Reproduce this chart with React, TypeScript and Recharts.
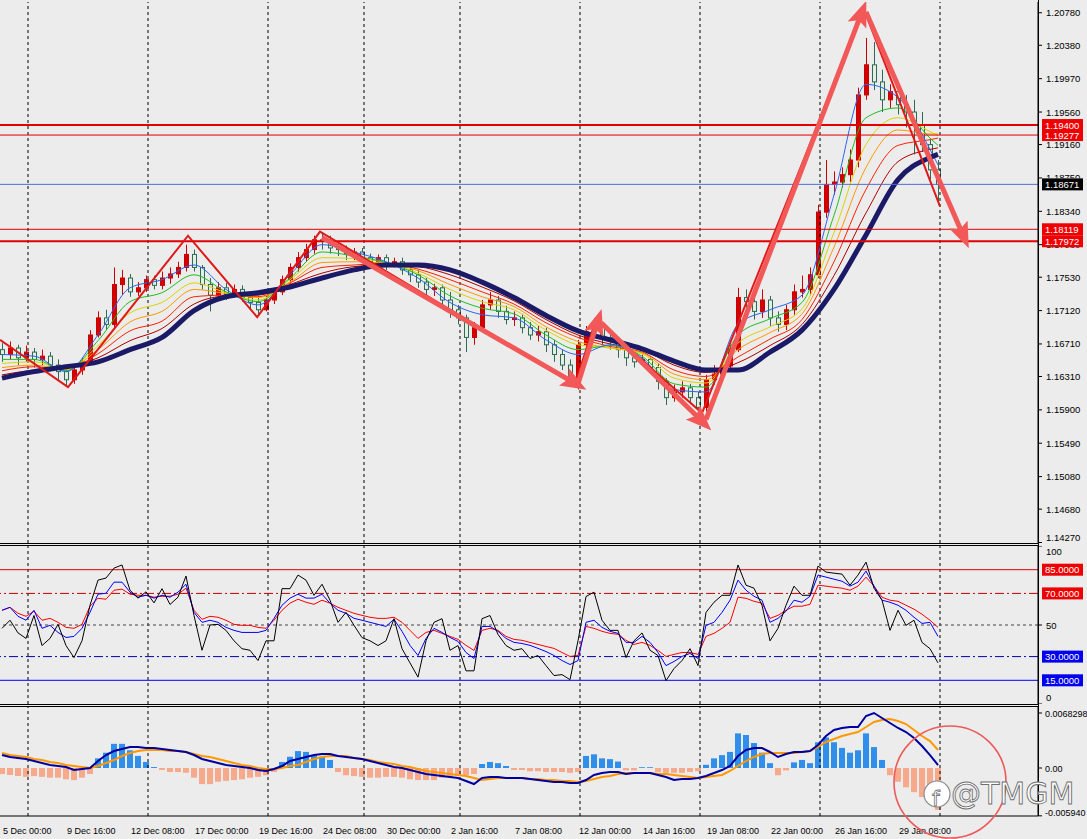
import React from "react";
import { ComposedChart, Bar, Line, XAxis, YAxis, ReferenceLine, Cell } from "recharts";

// ---- price candles (one candle per 8h) ----
const opens = [
  1.1664, 1.1658, 1.1666, 1.1654, 1.1661, 1.1652, 1.1656, 1.1645, 1.1637, 1.1627,
  1.1639, 1.1649, 1.1682, 1.1703, 1.1695, 1.1744, 1.1752, 1.1735, 1.174, 1.175,
  1.1743, 1.1752, 1.1757, 1.1765, 1.1781, 1.1765, 1.1744, 1.1731, 1.174, 1.1731,
  1.1738, 1.1728, 1.1722, 1.1713, 1.1725, 1.1735, 1.175, 1.1765, 1.1777, 1.1787,
  1.1799, 1.1797, 1.1789, 1.1787, 1.1782, 1.1784, 1.1777, 1.1772, 1.1777, 1.177,
  1.1772, 1.1762, 1.1756, 1.1747, 1.1738, 1.174, 1.1725, 1.1713, 1.1703, 1.1679,
  1.1691, 1.1719, 1.1725, 1.1711, 1.1701, 1.1703, 1.1691, 1.1682, 1.1686, 1.167,
  1.1658, 1.1645, 1.1629, 1.167, 1.1686, 1.1691, 1.1679, 1.1674, 1.1664, 1.1654,
  1.1649, 1.1652, 1.1642, 1.1625, 1.1605, 1.1612, 1.1617, 1.1605, 1.1593, 1.1627,
  1.1634, 1.1644, 1.1664, 1.1728, 1.1723, 1.1711, 1.1725, 1.1703, 1.1695, 1.1713,
  1.1735, 1.1738, 1.1756, 1.1833, 1.1867, 1.187, 1.1879, 1.1897, 1.1977, 1.2014,
  1.1993, 1.1971, 1.1981, 1.1965, 1.1956, 1.194, 1.1916, 1.1885,
];
const highs = [
  1.1672, 1.1674, 1.167, 1.1669, 1.1666, 1.1664, 1.1661, 1.1652, 1.1642, 1.1645,
  1.1654, 1.1688, 1.1711, 1.1713, 1.1765, 1.1762, 1.1757, 1.1747, 1.1755, 1.1755,
  1.176, 1.1765, 1.1772, 1.1793, 1.1787, 1.1768, 1.1752, 1.1747, 1.1746, 1.1744,
  1.1743, 1.1735, 1.173, 1.173, 1.174, 1.1755, 1.177, 1.1784, 1.1794, 1.1804,
  1.1808, 1.1804, 1.1797, 1.1792, 1.1789, 1.1789, 1.1782, 1.1781, 1.1781, 1.1777,
  1.1777, 1.1767, 1.1762, 1.1752, 1.1745, 1.1744, 1.1735, 1.1719, 1.1707, 1.1698,
  1.1725, 1.1735, 1.173, 1.1718, 1.1711, 1.1708, 1.1698, 1.1693, 1.1691, 1.1676,
  1.1664, 1.1652, 1.1676, 1.1693, 1.1703, 1.1695, 1.1686, 1.1679, 1.167, 1.1661,
  1.1658, 1.1656, 1.1647, 1.1629, 1.1621, 1.1625, 1.1622, 1.1612, 1.1633, 1.1645,
  1.1652, 1.167, 1.174, 1.1738, 1.173, 1.1738, 1.173, 1.1711, 1.1719, 1.1744,
  1.1755, 1.1765, 1.1842, 1.1897, 1.1883, 1.1888, 1.191, 1.1986, 1.2047, 1.2042,
  1.2008, 1.199, 1.1986, 1.1977, 1.1971, 1.1956, 1.1922, 1.1897,
];
const lows = [
  1.1649, 1.1652, 1.1645, 1.1649, 1.1642, 1.1645, 1.1637, 1.1627, 1.1618, 1.1622,
  1.1633, 1.1645, 1.1679, 1.1688, 1.1691, 1.1731, 1.1729, 1.173, 1.1735, 1.1738,
  1.1738, 1.1745, 1.1752, 1.176, 1.176, 1.1738, 1.1711, 1.1725, 1.1725, 1.1728,
  1.1723, 1.1713, 1.1706, 1.1711, 1.172, 1.1731, 1.1745, 1.176, 1.1772, 1.1782,
  1.1787, 1.1782, 1.1779, 1.1774, 1.1774, 1.177, 1.1765, 1.1767, 1.1762, 1.1765,
  1.1756, 1.1747, 1.174, 1.1731, 1.173, 1.1718, 1.1703, 1.1695, 1.1661, 1.167,
  1.1686, 1.1713, 1.1703, 1.1695, 1.1693, 1.1684, 1.1676, 1.1674, 1.1661, 1.1649,
  1.1639, 1.1618, 1.1615, 1.1664, 1.1679, 1.167, 1.1664, 1.1654, 1.1644, 1.1642,
  1.1644, 1.1634, 1.1615, 1.1596, 1.16, 1.1605, 1.1597, 1.1583, 1.1588, 1.1621,
  1.1629, 1.1639, 1.1661, 1.1711, 1.1701, 1.1703, 1.1693, 1.1686, 1.1688, 1.1707,
  1.1728, 1.1731, 1.1752, 1.1826, 1.1854, 1.1863, 1.187, 1.1888, 1.1971, 1.1983,
  1.1956, 1.1961, 1.1953, 1.1937, 1.1904, 1.1907, 1.1873, 1.1842,
];
const closes = [
  1.1658, 1.1666, 1.1654, 1.1661, 1.1652, 1.1656, 1.1645, 1.1637, 1.1627, 1.1639,
  1.1649, 1.1682, 1.1703, 1.1695, 1.1744, 1.1752, 1.1735, 1.174, 1.175, 1.1743,
  1.1752, 1.1757, 1.1765, 1.1781, 1.1765, 1.1744, 1.1731, 1.174, 1.1731, 1.1738,
  1.1728, 1.1722, 1.1713, 1.1725, 1.1735, 1.175, 1.1765, 1.1777, 1.1787, 1.1799,
  1.1797, 1.1789, 1.1787, 1.1782, 1.1784, 1.1777, 1.1772, 1.1777, 1.177, 1.1772,
  1.1762, 1.1756, 1.1747, 1.1738, 1.174, 1.1725, 1.1713, 1.1703, 1.1679, 1.1691,
  1.1719, 1.1725, 1.1711, 1.1701, 1.1703, 1.1691, 1.1682, 1.1686, 1.167, 1.1658,
  1.1645, 1.1629, 1.167, 1.1686, 1.1691, 1.1679, 1.1674, 1.1664, 1.1654, 1.1649,
  1.1652, 1.1642, 1.1625, 1.1605, 1.1612, 1.1617, 1.1605, 1.1593, 1.1627, 1.1634,
  1.1644, 1.1664, 1.1728, 1.1723, 1.1711, 1.1725, 1.1703, 1.1695, 1.1713, 1.1735,
  1.1738, 1.1756, 1.1833, 1.1867, 1.187, 1.1879, 1.1897, 1.1977, 1.2014, 1.1993,
  1.1971, 1.1981, 1.1965, 1.1956, 1.194, 1.1916, 1.1885, 1.1867,
];

// ---- moving-average ribbon, sampled every 4 candles ----
const maBars = [0, 4, 8, 12, 16, 20, 24, 28, 32, 36, 40, 44, 48, 52, 56, 60, 64, 68, 72, 76, 80, 84, 88, 92, 96, 100, 104, 108, 112, 116, 117];
const blueMA = [1.1658, 1.1656, 1.1637, 1.1682, 1.174, 1.175, 1.1768, 1.1738, 1.1719, 1.1756, 1.1793, 1.1784, 1.1772, 1.1752, 1.1722, 1.1707, 1.1703, 1.1676, 1.1658, 1.167, 1.1654, 1.1615, 1.1612, 1.1695, 1.1713, 1.1731, 1.1854, 1.199, 1.1974, 1.191, 1.1891];
const greenMA = [1.1652, 1.1652, 1.1638, 1.1675, 1.1723, 1.1734, 1.1756, 1.1735, 1.1723, 1.1752, 1.1784, 1.1779, 1.1771, 1.1756, 1.173, 1.1715, 1.1708, 1.1682, 1.1664, 1.1669, 1.1656, 1.1622, 1.1618, 1.1682, 1.1702, 1.1722, 1.1829, 1.1949, 1.1961, 1.1924, 1.1915];
const yellowMA = [1.1647, 1.1649, 1.1639, 1.1669, 1.1709, 1.1722, 1.1746, 1.1734, 1.1725, 1.175, 1.1777, 1.1776, 1.1771, 1.1758, 1.1738, 1.1723, 1.1713, 1.1688, 1.167, 1.1666, 1.1659, 1.1629, 1.1623, 1.1672, 1.1692, 1.1714, 1.1808, 1.1916, 1.1949, 1.1932, 1.1927];
const orangeMA = [1.1642, 1.1645, 1.164, 1.1664, 1.1698, 1.1711, 1.1738, 1.1733, 1.1728, 1.1747, 1.1771, 1.1772, 1.177, 1.1761, 1.1744, 1.1729, 1.1717, 1.1692, 1.1674, 1.1666, 1.166, 1.1634, 1.1627, 1.1664, 1.1685, 1.1708, 1.179, 1.1888, 1.1934, 1.1929, 1.1929];
const redMA = [1.1638, 1.1643, 1.164, 1.1659, 1.1687, 1.1699, 1.1729, 1.1731, 1.1729, 1.1746, 1.1765, 1.1768, 1.177, 1.1763, 1.175, 1.1735, 1.172, 1.1697, 1.1679, 1.1668, 1.1661, 1.1639, 1.1631, 1.1655, 1.1677, 1.1701, 1.1772, 1.1861, 1.1915, 1.1922, 1.1924];
const darkRedMA = [1.1633, 1.1639, 1.1642, 1.1654, 1.1675, 1.169, 1.172, 1.173, 1.1731, 1.1744, 1.1758, 1.1766, 1.1768, 1.1766, 1.1756, 1.1741, 1.1724, 1.1701, 1.1682, 1.1671, 1.1664, 1.1645, 1.1636, 1.1648, 1.1669, 1.1695, 1.1755, 1.1832, 1.1895, 1.191, 1.1912];
const slowMA = [1.1629, 1.1637, 1.1643, 1.1649, 1.1664, 1.1679, 1.1712, 1.1729, 1.1734, 1.1741, 1.1752, 1.1762, 1.1768, 1.1768, 1.1762, 1.1747, 1.1728, 1.1706, 1.1687, 1.1676, 1.1665, 1.165, 1.1639, 1.1639, 1.1661, 1.1688, 1.1738, 1.1805, 1.1873, 1.19, 1.1904];

// ---- hand-drawn objects (bar position, price) ----
const zigzagBars = [-0.25, 8.25, 23.25, 31.9, 39.75, 71.6, 74.25, 87.5, 107.75, 117.25];
const zigzagPrices = [1.1676, 1.1618, 1.1804, 1.1704, 1.1809, 1.1621, 1.1701, 1.1586, 1.2082, 1.184];
const arrowBars = [[40, 71.75], [72, 74.5], [74.9, 87.6], [88, 107.5], [108, 120.25]];
const arrowPrices = [[1.1802, 1.1622], [1.1622, 1.17], [1.1697, 1.1575], [1.1578, 1.2079], [1.2079, 1.1802]];
const thickLevels = [1.194, 1.17972];
const thinLevels = [1.19277, 1.18119];
const bidPrice = 1.18671;

const priceTicks = [1.2078, 1.2038, 1.1997, 1.1956, 1.1916, 1.1875, 1.1834, 1.1793, 1.1753, 1.1712, 1.1671, 1.1631, 1.159, 1.1549, 1.1508, 1.1468, 1.1427];

// ---- stochastic panel ----
const stochMain = [47.9, 53, 45, 41.5, 56, 37, 41.5, 50.4, 37, 29.4, 40, 62.5, 78.4, 79.7, 86, 88, 72, 67, 71, 64, 73, 63, 67.6, 81, 56, 34, 50, 50.4, 46.6, 40, 35, 34, 27.5, 40, 40, 73, 73, 81.6, 78.4, 68.8, 75.8, 65.7, 51.7, 58, 49.8, 42, 40, 37, 40, 54, 35, 26, 17, 40, 51.7, 54, 34, 37, 21, 21, 54, 56, 44, 37, 34, 35, 28.8, 30.7, 24.3, 18, 18.6, 15.4, 40, 68, 70.8, 53, 46.6, 46.6, 29.4, 40, 45, 34, 30.7, 14.8, 22.4, 27.5, 35, 24.3, 58, 64.4, 68.8, 68.8, 88, 75.2, 73.3, 62.5, 40, 47.9, 62.5, 74.6, 68.8, 68.8, 87.3, 83.5, 82.8, 82.2, 75.2, 81.6, 89.8, 73.3, 65.7, 46.6, 59.3, 49.8, 53, 39, 35, 26];
const stochSignal = [59.3, 61.2, 55.5, 53, 59.3, 47.9, 49.8, 45.3, 42.1, 42.8, 47.9, 58, 69.5, 70.1, 77.1, 77.1, 70.8, 67.6, 68.8, 67, 68.8, 67.6, 70.8, 75.8, 58, 51.7, 53, 51.7, 48.5, 46.6, 45.3, 45.3, 45.3, 46.6, 54.2, 62.5, 67, 69.5, 67, 67, 69.5, 63.8, 59.3, 57.4, 54.2, 53, 51.7, 50.4, 49.1, 53.6, 46, 37.1, 30.7, 41.5, 47.9, 45.3, 42.1, 39.6, 32.6, 28.8, 49.1, 49.1, 46, 41.5, 39, 38.3, 37.1, 35.2, 33.2, 30.7, 27.5, 25, 27.5, 51.7, 53, 48.5, 46, 44.7, 39, 39, 42.8, 39, 32.6, 24.3, 26.9, 30.1, 32, 28.8, 49.8, 51.7, 58, 65.7, 78.4, 72, 68.2, 65.7, 51.7, 54.2, 58.7, 65.7, 64.4, 68.2, 81.6, 80.3, 79, 77.7, 74.6, 77.1, 84.1, 74.6, 65.7, 64.4, 62.5, 59.3, 54.9, 51, 51.7, 42.8];
const stochSlow = [59.3, 61.2, 57.4, 55.5, 58.7, 53, 54.2, 51.7, 48.5, 47.9, 50.4, 61.9, 66.9, 66.3, 72, 72.7, 69.5, 68.8, 68.8, 67.6, 68.2, 68.2, 69.5, 73.3, 59.3, 53.6, 55.5, 54.9, 53, 50.4, 49.8, 49.8, 48.5, 47.9, 53, 59.3, 63.8, 66.3, 64.4, 63.1, 65.7, 63.8, 61.2, 59.3, 57.4, 56.1, 54.9, 54.2, 54.2, 54.9, 51.7, 46.6, 41.5, 45.3, 46.6, 44.7, 42.8, 40.9, 37.1, 33.9, 46.6, 47.9, 46.6, 42.8, 40.9, 40.3, 39, 37.7, 36.4, 35.2, 32.6, 30.1, 30.7, 49.1, 47.9, 46, 44.7, 44.1, 40.3, 37.7, 39, 37.1, 33.9, 30.1, 31.4, 32.6, 32.6, 31.4, 42.8, 44.7, 47.9, 51.7, 67.6, 66.9, 65, 63.8, 54.2, 56.1, 59.3, 61.9, 61.9, 63.1, 75.2, 74.6, 73.9, 73.3, 72, 74.6, 80.3, 74.6, 67.6, 65.7, 65, 62.5, 60, 56.8, 53, 48.5];
const stochLevels = [85, 70, 50, 30, 15];

// ---- MACD panel ----
const macdMain = [0.00161, 0.00137, 0.00124, 0.00112, 0.00087, 0.00062, 0.00037, 0.00025, 0.00012, -0.00025, -0.00012, 0, 0.00087, 0.00161, 0.00211, 0.00236, 0.00261, 0.00261, 0.00248, 0.00248, 0.00236, 0.00224, 0.00211, 0.00199, 0.00161, 0.00112, 0.00087, 0.00062, 0.00037, 0.00025, 0.00012, 0, -0.00025, -0.00037, -0.00012, 0.00025, 0.00087, 0.00112, 0.00137, 0.00161, 0.00174, 0.00174, 0.00149, 0.00137, 0.00124, 0.00112, 0.00087, 0.00062, 0.00037, 0.00012, 0, -0.00025, -0.0005, -0.00075, -0.00087, -0.00099, -0.00112, -0.00124, -0.00161, -0.00199, -0.00124, -0.00112, -0.00112, -0.00124, -0.00124, -0.00124, -0.00137, -0.00149, -0.00161, -0.00174, -0.00174, -0.00186, -0.00186, -0.00149, -0.00087, -0.00062, -0.0005, -0.0005, -0.00075, -0.00062, -0.00062, -0.00062, -0.00087, -0.00112, -0.00149, -0.00137, -0.00137, -0.00124, -0.00099, -0.00062, -0.00025, 0.00025, 0.00149, 0.00224, 0.00248, 0.00248, 0.00199, 0.00137, 0.00174, 0.00199, 0.00199, 0.00211, 0.00286, 0.00397, 0.00472, 0.00497, 0.00509, 0.00509, 0.00646, 0.00683, 0.00621, 0.00559, 0.00497, 0.00447, 0.00373, 0.00273, 0.00161, 0.00037];
const macdSignal = [0.00186, 0.00161, 0.00149, 0.00137, 0.00112, 0.00099, 0.00075, 0.00062, 0.00037, 0.00025, 0.00012, 0, 0.00025, 0.00062, 0.00099, 0.00149, 0.00186, 0.00211, 0.00224, 0.00224, 0.00224, 0.00211, 0.00211, 0.00199, 0.00174, 0.00149, 0.00137, 0.00112, 0.00087, 0.00062, 0.00037, 0.00025, 0, -0.00012, -0.00012, 0, 0.00025, 0.00037, 0.00075, 0.00112, 0.00137, 0.00149, 0.00149, 0.00149, 0.00124, 0.00112, 0.00099, 0.00075, 0.00062, 0.0005, 0.00025, 0.00012, -0.00012, -0.00037, -0.0005, -0.00062, -0.00075, -0.00087, -0.00099, -0.00124, -0.00149, -0.00137, -0.00124, -0.00124, -0.00124, -0.00124, -0.00137, -0.00137, -0.00149, -0.00149, -0.00161, -0.00161, -0.00174, -0.00161, -0.00137, -0.00112, -0.00099, -0.00075, -0.00062, -0.00062, -0.00062, -0.00062, -0.00075, -0.00075, -0.00087, -0.00099, -0.00112, -0.00124, -0.00112, -0.00099, -0.00087, -0.00037, 0.00025, 0.00087, 0.00137, 0.00174, 0.00186, 0.00186, 0.00186, 0.00186, 0.00199, 0.00211, 0.00261, 0.00323, 0.0036, 0.00397, 0.00422, 0.00447, 0.00509, 0.00571, 0.00596, 0.00609, 0.00584, 0.00546, 0.00472, 0.00397, 0.00335, 0.00224];
const macdHist = [
  -0.00075, -0.00087, -0.00099, -0.0011, -0.001, -0.0011, -0.0012, -0.0012, -0.0014, -0.0015, -0.0012, -0.00075,
  0.0012, 0.0019, 0.003, 0.003, 0.0022, 0.0015, 0.00075, 0.00012,
  -0.00025, -0.0005, -0.0005, -0.0006, -0.0012, -0.002, -0.002, -0.0017, -0.0016, -0.0015, -0.0014, -0.0012, -0.0011, -0.0009, -0.0005,
  0.00075, 0.0014, 0.0021, 0.002, 0.0016, 0.0014, 0.001,
  -0.0005, -0.0009, -0.001, -0.0011, -0.0012, -0.0012, -0.0011, -0.0011, -0.0012, -0.0014, -0.0015, -0.0015, -0.0015, -0.0012, -0.0011, -0.001, -0.0009, -0.00075,
  0.0005, 0.00075, 0.0006, 0.00025,
  -0.00025, -0.00025, -0.0004, -0.0004, -0.0005, -0.0005, -0.0005, -0.0006, -0.0005,
  0.0015, 0.0017, 0.0012, 0.0011, 0.0008,
  -0.0003, -0.0003, 0.0001, 0.0001,
  -0.0005, -0.0006, -0.0006, -0.0006, -0.0005, -0.0004,
  0.0004, 0.0012, 0.0016, 0.002, 0.0043, 0.0041, 0.0031, 0.0019, 0.0006,
  -0.0009, -0.0003,
  0.0007, 0.001, 0.0006, 0.0032, 0.0038, 0.0032, 0.0025, 0.0019, 0.0022, 0.0043, 0.0026, 0.001,
  -0.0009, -0.0017, -0.0024, -0.003, -0.0036, -0.0043, -0.0052,
];
const macdTicks = [-0.00594, 0, 0.0068298];

// ---- time axis ----
const labelBars = [0, 8, 16, 24, 32, 40, 48, 56, 64, 72, 80, 88, 96, 104, 112];
const dateLabels = ["5 Dec 00:00", "9 Dec 16:00", "12 Dec 08:00", "17 Dec 00:00", "19 Dec 16:00", "24 Dec 08:00", "30 Dec 00:00", "2 Jan 16:00", "7 Jan 08:00", "12 Jan 00:00", "14 Jan 16:00", "19 Jan 08:00", "22 Jan 00:00", "26 Jan 16:00", "29 Jan 08:00"];
const weekStarts = [3.25, 18.25, 33.25, 45.25, 57.25, 72.25, 87.25, 102.25, 117.25];

const FONT = "'Liberation Sans', Arial, sans-serif";
const W = 1087;
const AXIS_W = 49;
const X_DOMAIN: [number, number] = [-0.25, 129.5];
const PRICE_DOMAIN: [number, number] = [1.14264, 1.20912];
const MAIN_PLOT_H = 541;
const PX_PER_PRICE = MAIN_PLOT_H / (PRICE_DOMAIN[1] - PRICE_DOMAIN[0]);
const BG = "#ececec";

const candles = opens.map((o, i) => ({ x: i, o, h: highs[i], l: lows[i], c: closes[i] }));
const ribbon = [darkRedMA, redMA, orangeMA, yellowMA, greenMA, blueMA];
const ribbonColors = ["#b00000", "#ff2200", "#ff9900", "#dcd400", "#1fbf1f", "#2a66ee"];
const maPts = (vals: number[]) => maBars.map((x, k) => ({ x, v: vals[k] }));
const zigzag = zigzagBars.map((x, k) => ({ x, v: zigzagPrices[k] }));
const arrows = arrowBars.map((xs, k) => xs.map((x, j) => ({ x, v: arrowPrices[k][j] })));
const stochRows = stochMain.map((v, i) => ({ x: i, k: v, d: stochSignal[i], s: stochSlow[i] }));
const macdRows = macdHist.map((h, i) => ({ x: i, h, m: macdMain[i], s: macdSignal[i] }));
const taggedLevels = [...thickLevels, ...thinLevels, bidPrice];

function Candle(props: any) {
  const { x, y, width, height, payload } = props;
  if (!payload || width == null) return null;
  const { o, h, l, c } = payload;
  const top = Math.min(y, y + height);
  const bottom = Math.max(y, y + height);
  const span = h - l || 1e-9;
  const toY = (v: number) => top + ((h - v) / span) * (bottom - top);
  const bull = c >= o;
  const bTop = toY(Math.max(o, c));
  const bBot = toY(Math.min(o, c));
  const cx = Math.round(x + width / 2) + 0.5;
  const edge = bull ? "#c80000" : "#2e6a54";
  return (
    <g>
      <line x1={cx} x2={cx} y1={top} y2={bottom} stroke={edge} strokeWidth={1} />
      <rect x={cx - 2} y={bTop} width={4} height={Math.max(1, bBot - bTop)} fill={bull ? "#d40000" : "#e3efe3"} stroke={edge} strokeWidth={1} />
    </g>
  );
}

function tag(text: string, bg: string) {
  return (props: any) => {
    const vb = props.viewBox || {};
    const x = (vb.x ?? 0) + (vb.width ?? 0) + 4;
    const y = vb.y ?? 0;
    return (
      <g>
        <rect x={x} y={y - 6} width={41} height={12} fill={bg} />
        <text x={x + 3} y={y + 3.5} fontSize={9.5} fill="#fff" fontFamily={FONT}>
          {text}
        </text>
      </g>
    );
  };
}

// tick labels that sit under a price tag are clipped the way the terminal hides them
function PriceTick(props: any) {
  const { x, y, payload, index } = props;
  const v = payload.value;
  const ty = Math.min(y, 537);
  let clip: [number, number] | null = null;
  taggedLevels.forEach((t) => {
    const tagY = y + (v - t) * PX_PER_PRICE;
    if (Math.abs(tagY - ty) < 12) clip = tagY > ty ? [-1000, tagY - 6] : [tagY + 6, 1000];
  });
  const id = "ptclip" + index;
  return (
    <g>
      {clip && (
        <defs>
          <clipPath id={id}>
            <rect x={x - 2} y={clip[0]} width={60} height={clip[1] - clip[0]} />
          </clipPath>
        </defs>
      )}
      <text x={x} y={ty + 3.5} fontSize={9.5} fill="#000" fontFamily={FONT} clipPath={clip ? `url(#${id})` : undefined}>
        {v.toFixed(5)}
      </text>
    </g>
  );
}

function StochTick(props: any) {
  const { x, y, payload } = props;
  const yy = Math.min(Math.max(y, 5), 151);
  return (
    <text x={x} y={yy + 3.5} fontSize={9.5} fill="#000" fontFamily={FONT}>
      {payload.value}
    </text>
  );
}

function MacdTick(props: any) {
  const { x, y, payload } = props;
  const v = payload.value;
  const text = v === 0 ? "0.00" : v > 0 ? "0.0068298" : "-0.005940";
  const yy = Math.min(y, 106);
  return (
    <text x={x - 1} y={yy + 3.5} fontSize={9} fill="#000" fontFamily={FONT}>
      {text}
    </text>
  );
}

function DateTick(props: any) {
  const { x, y, payload } = props;
  const k = labelBars.indexOf(payload.value);
  return (
    <text x={x + 1} y={y + 18} fontSize={9} fill="#000" fontFamily={FONT}>
      {dateLabels[k]}
    </text>
  );
}

const weekLines = (prefix: string) =>
  weekStarts.map((w) => (
    <ReferenceLine key={prefix + w} x={w} stroke="#000" strokeDasharray="3 3" strokeWidth={1} />
  ));

const yAxisCommon = {
  orientation: "right" as const,
  width: AXIS_W,
  type: "number" as const,
  allowDataOverflow: true,
  interval: 0 as const,
  tickSize: 4,
  tickMargin: 4,
  tickLine: { stroke: "#000" },
  axisLine: { stroke: "#000" },
};

export default function App() {
  return (
    <div style={{ position: "absolute", left: 0, top: 0, width: W, height: 839, background: BG, overflow: "hidden", fontFamily: FONT }}>
      {/* main price window */}
      <div style={{ position: "absolute", left: 0, top: 0 }}>
        <ComposedChart width={W} height={544} data={candles} margin={{ top: 2, right: 0, bottom: 1, left: 0 }}>
          <defs>
            <marker id="head" markerUnits="userSpaceOnUse" markerWidth={26} markerHeight={22} refX={14} refY={11} orient="auto">
              <path d="M0,1 L26,11 L0,21 L5,11 Z" fill="#f25858" />
            </marker>
          </defs>
          <XAxis dataKey="x" type="number" domain={X_DOMAIN} allowDataOverflow hide />
          <YAxis {...yAxisCommon} domain={PRICE_DOMAIN} ticks={priceTicks} tick={<PriceTick />} />
          {weekLines("m")}
          {ribbon.map((vals, k) => (
            <Line key={"r" + k} data={maPts(vals)} dataKey="v" type="monotone" stroke={ribbonColors[k]} strokeWidth={1} dot={false} isAnimationActive={false} />
          ))}
          <Bar dataKey={(d: any) => [d.l, d.h]} barSize={5} shape={<Candle />} isAnimationActive={false} />
          <Line data={maPts(slowMA)} dataKey="v" type="monotone" stroke="#1a1a66" strokeWidth={5} dot={false} isAnimationActive={false} />
          {thickLevels.map((v) => (
            <ReferenceLine key={"t" + v} y={v} stroke="#e00000" strokeWidth={2} label={tag(v.toFixed(5), "#ee0000")} />
          ))}
          {thinLevels.map((v) => (
            <ReferenceLine key={"n" + v} y={v} stroke="#e00000" strokeWidth={1} label={tag(v.toFixed(5), "#ee0000")} />
          ))}
          <ReferenceLine y={bidPrice} stroke="#4f6fd8" strokeWidth={1} label={tag(bidPrice.toFixed(5), "#000")} />
          <Line data={zigzag} dataKey="v" type="linear" stroke="#e01818" strokeWidth={2} dot={false} isAnimationActive={false} />
          {arrows.map((pts, k) => (
            <Line key={"a" + k} data={pts} dataKey="v" type="linear" stroke="#f25858" strokeWidth={5} dot={false} markerEnd="url(#head)" isAnimationActive={false} />
          ))}
        </ComposedChart>
      </div>

      {/* stochastic window */}
      <div style={{ position: "absolute", left: 0, top: 546 }}>
        <ComposedChart width={W} height={158} data={stochRows} margin={{ top: 0, right: 0, bottom: 0, left: 0 }}>
          <XAxis dataKey="x" type="number" domain={X_DOMAIN} allowDataOverflow hide />
          <YAxis {...yAxisCommon} domain={[0, 100]} ticks={[0, 50, 100]} tick={<StochTick />} />
          {weekLines("s")}
          <ReferenceLine y={stochLevels[0]} stroke="#e00000" label={tag("85.0000", "#ee0000")} />
          <ReferenceLine y={stochLevels[1]} stroke="#c00000" strokeDasharray="9 3 2 3" label={tag("70.0000", "#ee0000")} />
          <ReferenceLine y={stochLevels[2]} stroke="#444" strokeDasharray="3 3" />
          <ReferenceLine y={stochLevels[3]} stroke="#0000b0" strokeDasharray="9 3 2 3" label={tag("30.0000", "#0000ee")} />
          <ReferenceLine y={stochLevels[4]} stroke="#0000ff" label={tag("15.0000", "#0000ee")} />
          <Line dataKey="s" stroke="#ff0000" strokeWidth={1} dot={false} isAnimationActive={false} />
          <Line dataKey="d" stroke="#0000ff" strokeWidth={1} dot={false} isAnimationActive={false} />
          <Line dataKey="k" stroke="#000" strokeWidth={1} dot={false} isAnimationActive={false} />
        </ComposedChart>
      </div>

      {/* MACD window + time axis */}
      <div style={{ position: "absolute", left: 0, top: 706 }}>
        <ComposedChart width={W} height={133} data={macdRows} margin={{ top: 0, right: 0, bottom: 0, left: 0 }}>
          <XAxis dataKey="x" type="number" domain={X_DOMAIN} allowDataOverflow ticks={labelBars} interval={0} tick={<DateTick />} tickLine={false} tickSize={0} tickMargin={0} height={23} axisLine={{ stroke: "#000" }} />
          <YAxis {...yAxisCommon} domain={[-0.00596, 0.0077]} ticks={macdTicks} tick={<MacdTick />} />
          {weekLines("d")}
          <Bar dataKey="h" barSize={6} isAnimationActive={false}>
            {macdRows.map((r, i) => (
              <Cell key={i} fill={r.h >= 0 ? "#2f8fea" : "#f7a98c"} />
            ))}
          </Bar>
          <Line dataKey="s" stroke="#ff9900" strokeWidth={2} dot={false} isAnimationActive={false} />
          <Line dataKey="m" stroke="#0000a0" strokeWidth={2} dot={false} isAnimationActive={false} />
        </ComposedChart>
      </div>

      {/* window separators */}
      <div style={{ position: "absolute", left: 0, top: 543, width: 1038, height: 1, background: "#000" }} />
      <div style={{ position: "absolute", left: 0, top: 545, width: 1038, height: 1, background: "#000" }} />
      <div style={{ position: "absolute", left: 0, top: 704, width: 1038, height: 1, background: "#000" }} />
      <div style={{ position: "absolute", left: 0, top: 706, width: 1038, height: 1, background: "#000" }} />
      <div style={{ position: "absolute", left: 1038, top: 0, width: 1, height: 816, background: "#000" }} />

      {/* watermark */}
      <svg width={W} height={839} style={{ position: "absolute", left: 0, top: 0, pointerEvents: "none" }}>
        <circle cx={950} cy={782} r={56} fill="none" stroke="#ec5a5a" strokeWidth={1.6} />
        <circle cx={937} cy={794} r={13} fill="#fff" stroke="#8a8a8a" strokeWidth={1.2} />
        <text x={932} y={806} fontSize={22} fontFamily="'DejaVu Sans'" fill="#fff" stroke="#777" strokeWidth={0.8}>
          f
        </text>
        <text x={951} y={804} fontSize={30} fontFamily="'DejaVu Sans'" fill="#fff" stroke="#6e6e6e" strokeWidth={0.9}>
          @TMGM
        </text>
      </svg>
    </div>
  );
}
